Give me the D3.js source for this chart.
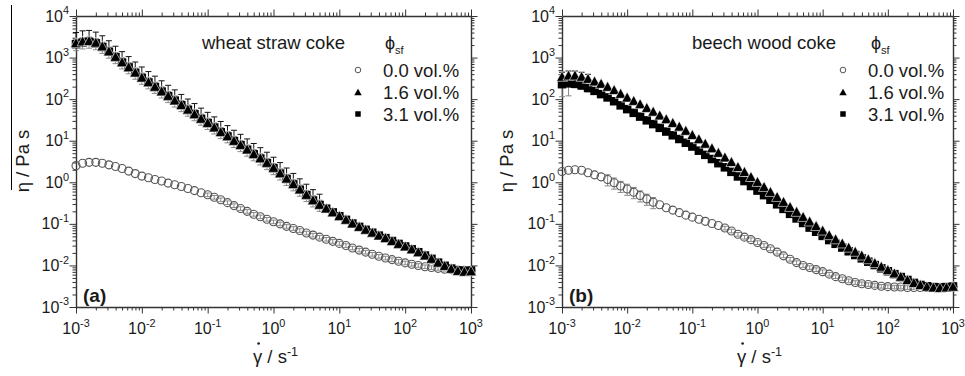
<!DOCTYPE html>
<html>
<head>
<meta charset="utf-8">
<script src="https://cdn.jsdelivr.net/npm/d3@7"></script>
<style>
  body { margin: 0; background: #fff; }
  svg text { font-family: "Liberation Sans", Arial, sans-serif; fill: #1a1a1a; }
</style>
</head>
<body>
<svg id="chart" width="965" height="376"></svg>
<script>
// shear rate (1/s), shared by all series
const shearRate = [
  1.00e-3, 1.26e-3, 1.58e-3, 2.00e-3, 2.51e-3, 3.16e-3, 3.98e-3, 5.01e-3, 6.31e-3, 7.94e-3,
  1.00e-2, 1.26e-2, 1.58e-2, 2.00e-2, 2.51e-2, 3.16e-2, 3.98e-2, 5.01e-2, 6.31e-2, 7.94e-2,
  0.100, 0.126, 0.158, 0.200, 0.251, 0.316, 0.398, 0.501, 0.631, 0.794,
  1.00, 1.26, 1.58, 2.00, 2.51, 3.16, 3.98, 5.01, 6.31, 7.94,
  10.0, 12.6, 15.8, 20.0, 25.1, 31.6, 39.8, 50.1, 63.1, 79.4,
  100, 126, 158, 200, 251, 316, 398, 501, 631, 794,
  1000
];

// (a) wheat straw coke, viscosity in Pa s
const wheat00 = [
  2.51, 2.88, 3.02, 3.02, 2.88, 2.63, 2.40, 2.14, 1.86, 1.62,
  1.41, 1.29, 1.17, 1.07, 0.955, 0.871, 0.794, 0.708, 0.631, 0.562,
  0.501, 0.437, 0.380, 0.324, 0.275, 0.234, 0.200, 0.170, 0.148, 0.129,
  0.112, 0.100, 0.0871, 0.0776, 0.0692, 0.0603, 0.0537, 0.0479, 0.0427, 0.0380,
  0.0339, 0.0302, 0.0263, 0.0234, 0.0209, 0.0186, 0.0166, 0.0151, 0.0138, 0.0126,
  0.0115, 0.0107, 0.0100, 0.00933, 0.00891, 0.00851, 0.00813, 0.00794, 0.00776, 0.00759,
  0.00759
];
const wheat16 = [
  2290, 2510, 2570, 2340, 1910, 1450, 1070, 794, 603, 447,
  339, 263, 204, 158, 123, 95.5, 74.1, 57.5, 44.7, 34.7,
  27.5, 21.4, 16.6, 13.2, 10.2, 8.13, 6.31, 4.90, 3.89, 3.02,
  2.29, 1.70, 1.26, 0.933, 0.692, 0.513, 0.380, 0.295, 0.240, 0.195,
  0.158, 0.129, 0.105, 0.0871, 0.0741, 0.0631, 0.0537, 0.0468, 0.0398, 0.0339,
  0.0295, 0.0251, 0.0214, 0.0178, 0.0148, 0.0120, 0.0100, 0.00851, 0.00759, 0.00724,
  0.00741
];
const wheat31 = [
  2100, 2300, 2400, 2200, 1800, 1380, 1020, 760, 580, 430,
  325, 252, 196, 152, 118, 92, 71.5, 55.5, 43.2, 33.6,
  26.6, 20.7, 16.0, 12.7, 9.8, 7.8, 6.05, 4.7, 3.72, 2.88,
  2.18, 1.62, 1.20, 0.89, 0.66, 0.49, 0.365, 0.285, 0.232, 0.189,
  0.153, 0.125, 0.102, 0.0845, 0.072, 0.0612, 0.0521, 0.0454, 0.0386, 0.0329,
  0.0286, 0.0244, 0.0208, 0.0173, 0.0144, 0.0117, 0.0098, 0.0084, 0.0076, 0.0073,
  0.0075
];

// (b) beech wood coke
const beech00 = [
  1.82, 1.95, 2.00, 1.95, 1.70, 1.51, 1.35, 1.17, 0.977, 0.813,
  0.692, 0.575, 0.479, 0.398, 0.331, 0.288, 0.245, 0.214, 0.186, 0.162,
  0.145, 0.129, 0.115, 0.102, 0.0912, 0.0794, 0.0676, 0.0562, 0.0479, 0.0417,
  0.0355, 0.0302, 0.0251, 0.0209, 0.0170, 0.0141, 0.0117, 0.0100, 0.00891, 0.00794,
  0.00708, 0.00617, 0.00537, 0.00479, 0.00427, 0.00389, 0.00363, 0.00347, 0.00331, 0.00316,
  0.00309, 0.00302, 0.00302, 0.00295, 0.00295, 0.00295, 0.00295, 0.00295, 0.00295, 0.00295,
  0.00302
];
const beech16 = [
  355, 380, 380, 355, 316, 275, 240, 204, 170, 138,
  112, 93.3, 77.6, 63.1, 51.3, 41.7, 33.9, 27.5, 22.4, 17.8,
  14.1, 11.2, 8.71, 6.76, 5.25, 4.07, 3.16, 2.40, 1.82, 1.38,
  1.05, 0.794, 0.603, 0.457, 0.347, 0.263, 0.200, 0.151, 0.117, 0.0912,
  0.0708, 0.0550, 0.0437, 0.0347, 0.0275, 0.0219, 0.0178, 0.0145, 0.0117, 0.00955,
  0.00794, 0.00661, 0.00550, 0.00457, 0.00389, 0.00347, 0.00316, 0.00302, 0.00295, 0.00302,
  0.00316
];
const beech31 = [
  229, 240, 234, 214, 186, 158, 132, 110, 89.1, 70.8,
  57.5, 46.8, 38.0, 30.9, 25.1, 20.4, 16.6, 13.5, 11.0, 8.91,
  7.24, 5.75, 4.57, 3.63, 2.88, 2.29, 1.78, 1.38, 1.07, 0.813,
  0.631, 0.490, 0.380, 0.295, 0.229, 0.174, 0.135, 0.105, 0.0813, 0.0646,
  0.0513, 0.0407, 0.0331, 0.0269, 0.0219, 0.0178, 0.0148, 0.0123, 0.0102, 0.00851,
  0.00724, 0.00617, 0.00525, 0.00447, 0.00380, 0.00339, 0.00316, 0.00302, 0.00295, 0.00302,
  0.00309
];

// relative error bars: [from shear rate, to shear rate, relative error]
const wheatErr00 = [[0.08, 1000, 0.1]];
const wheatErr16 = [[0.001, 6, 0.75]];
const wheatErr31 = [[0.001, 6, 0.3]];
const beechErr00 = [[0.004, 0.03, 0.3], [0.3, 1000, 0.1]];
const beechErr16 = [[0.001, 0.003, 0.25]];
const beechErr31 = [[0.001, 0.0013, 0.5], [0.0013, 0.003, 0.2]];

const seriesLabels = ['0.0 vol.%', '1.6 vol.%', '3.1 vol.%'];
const xTickExps = [-3, -2, -1, 0, 1, 2, 3];
const yTickExps = [-3, -2, -1, 0, 1, 2, 3, 4];

const svg = d3.select('#chart');

const panels = [
  { x0: 76, x1: 471, y0: 16, y1: 307, title: 'wheat straw coke', tag: '(a)',
    data: [wheat00, wheat16, wheat31], err: [wheatErr00, wheatErr16, wheatErr31],
    titleX: 202, phiX: 385, legMarkX: 358, legTextX: 383, yTitleX: 23 },
  { x0: 562, x1: 953, y0: 16, y1: 307, title: 'beech wood coke', tag: '(b)',
    data: [beech00, beech16, beech31], err: [beechErr00, beechErr16, beechErr31],
    titleX: 692, phiX: 871, legMarkX: 843, legTextX: 868, yTitleX: 507 }
];

// minor tick positions for a log axis
function minors(lo, hi) {
  const out = [];
  for (let e = lo; e < hi; e++) {
    for (let m = 2; m <= 9; m++) out.push(m * Math.pow(10, e));
  }
  return out;
}

function supText(sel, base, exp, size) {
  sel.append('tspan').text(base);
  sel.append('tspan').attr('dy', -size * 0.45).attr('font-size', size * 0.68).text(exp);
}

// triangle centred on its bounding box, like the plotting program does
function triPath(w, h) {
  return `M0,${-h / 2}L${w / 2},${h / 2}L${-w / 2},${h / 2}Z`;
}
function sqPath(s) {
  return `M${-s / 2},${-s / 2}h${s}v${s}h${-s}Z`;
}

panels.forEach(p => {
  const x = d3.scaleLog().domain([1e-3, 1e3]).range([p.x0, p.x1]);
  const y = d3.scaleLog().domain([1e-3, 1e4]).range([p.y1, p.y0]);
  const g = svg.append('g');

  const xMaj = xTickExps.map(e => Math.pow(10, e));
  const yMaj = yTickExps.map(e => Math.pow(10, e));
  const xMin = minors(-3, 3), yMin = minors(-3, 4);

  // bottom/left ticks point out, top/right ticks point in
  const axes = [
    [d3.axisBottom, x, xMaj, xMin, `translate(0,${p.y1})`, 1],
    [d3.axisBottom, x, xMaj, xMin, `translate(0,${p.y0})`, -1],
    [d3.axisLeft, y, yMaj, yMin, `translate(${p.x0},0)`, 1],
    [d3.axisLeft, y, yMaj, yMin, `translate(${p.x1},0)`, -1]
  ];
  axes.forEach(([ax, sc, maj, mn, tr, k]) => {
    g.append('g').attr('transform', tr)
      .call(ax(sc).tickValues(mn).tickSize(3.5 * k).tickSizeOuter(0).tickFormat(''))
      .call(a => a.select('.domain').remove());
    g.append('g').attr('transform', tr)
      .call(ax(sc).tickValues(maj).tickSize(6.5 * k).tickSizeOuter(0).tickFormat(''));
  });
  g.selectAll('.tick line').attr('stroke', '#333').attr('stroke-width', 1);
  g.selectAll('.domain').attr('stroke', '#333').attr('stroke-width', 1.4);

  // tick labels
  xTickExps.forEach(e => {
    const t = g.append('text').attr('x', x(Math.pow(10, e))).attr('y', 334)
      .attr('text-anchor', 'middle').attr('font-size', 16);
    supText(t, '10', String(e), 16);
  });
  yTickExps.forEach(e => {
    const t = g.append('text').attr('x', p.x0 - 7).attr('y', y(Math.pow(10, e)) + 5.5)
      .attr('text-anchor', 'end').attr('font-size', 16);
    supText(t, '10', String(e), 16);
  });

  // x axis title; the dot over the gamma is drawn as a tiny circle
  const xt = g.append('text').attr('y', 363).attr('font-size', 18.5);
  xt.append('tspan').text('\u03B3 / s');
  xt.append('tspan').attr('dy', -7).attr('font-size', 12.5).text('-1');
  const n = xt.node();
  const len = n.getComputedTextLength();
  const startX = (p.x0 + p.x1) / 2 + 2 - len / 2;
  xt.attr('x', startX);
  const gw = n.getSubStringLength(0, 1);
  g.append('circle').attr('cx', startX + gw / 2 + 1).attr('cy', 343.5).attr('r', 1.3)
    .attr('fill', '#1a1a1a');

  g.append('text').attr('transform', `translate(${p.yTitleX},161) rotate(-90)`)
    .attr('text-anchor', 'middle').attr('dy', '0.35em').attr('font-size', 18.5)
    .text('\u03B7 / Pa s');

  const pts = p.data.map(vals => shearRate.map((r, i) => ({ r, v: vals[i] })));

  // error bars first, markers on top
  [0, 2, 1].forEach(si => {
    const ebars = [];
    pts[si].forEach(d => {
      p.err[si].forEach(([a, b, rel]) => {
        if (d.r >= a && d.r <= b) {
          ebars.push({ r: d.r, lo: si === 1 ? d.v : d.v * (1 - rel), hi: d.v * (1 + rel), lowCap: si !== 1 });
        }
      });
    });
    const eg = g.append('g').attr('stroke', si === 1 ? '#111' : '#8a8a8a').attr('stroke-width', 1);
    eg.selectAll('line.v').data(ebars).join('line').attr('class', 'v')
      .attr('x1', d => x(d.r)).attr('x2', d => x(d.r))
      .attr('y1', d => y(d.lo)).attr('y2', d => y(d.hi));
    eg.selectAll('line.t').data(ebars).join('line').attr('class', 't')
      .attr('x1', d => x(d.r) - 3).attr('x2', d => x(d.r) + 3)
      .attr('y1', d => y(d.hi)).attr('y2', d => y(d.hi));
    eg.selectAll('line.b').data(ebars.filter(d => d.lowCap)).join('line').attr('class', 'b')
      .attr('x1', d => x(d.r) - 3).attr('x2', d => x(d.r) + 3)
      .attr('y1', d => y(d.lo)).attr('y2', d => y(d.lo));
  });

  g.append('g').selectAll('circle').data(pts[0]).join('circle')
    .attr('cx', d => x(d.r)).attr('cy', d => y(d.v)).attr('r', 4)
    .attr('fill', 'none').attr('stroke', '#555').attr('stroke-width', 1.1);
  g.append('g').selectAll('path').data(pts[2]).join('path')
    .attr('transform', d => `translate(${x(d.r)},${y(d.v)})`)
    .attr('d', sqPath(8.5)).attr('fill', '#000');
  g.append('g').selectAll('path').data(pts[1]).join('path')
    .attr('transform', d => `translate(${x(d.r)},${y(d.v)})`)
    .attr('d', triPath(11, 10)).attr('fill', '#000')
    .attr('stroke', '#fff').attr('stroke-width', 0.6);

  // legend
  g.append('text').attr('x', p.titleX).attr('y', 49).attr('font-size', 18.5).text(p.title);
  const phi = g.append('text').attr('x', p.phiX).attr('y', 49).attr('font-size', 18);
  phi.append('tspan').text('\u03D5');
  phi.append('tspan').attr('dy', 5).attr('font-size', 11).text('sf');

  const rowsY = [70, 92, 114];
  seriesLabels.forEach((lab, i) => {
    const cy = rowsY[i];
    if (i === 0) {
      g.append('circle').attr('cx', p.legMarkX).attr('cy', cy).attr('r', 2.8)
        .attr('fill', 'none').attr('stroke', '#555').attr('stroke-width', 1);
    } else {
      g.append('path').attr('transform', `translate(${p.legMarkX},${cy})`)
        .attr('d', i === 1 ? triPath(7.5, 6.5) : sqPath(5.5)).attr('fill', '#000');
    }
    g.append('text').attr('x', p.legTextX).attr('y', cy + 6.5).attr('font-size', 18.5).text(lab);
  });

  g.append('text').attr('x', p.x0 + 7).attr('y', 302).attr('font-size', 19)
    .attr('font-weight', 'bold').text(p.tag);
});

// stray overline beside the left axis title
svg.append('line').attr('x1', 11.5).attr('x2', 11.5).attr('y1', 5).attr('y2', 190)
  .attr('stroke', '#000').attr('stroke-width', 1);
</script>
</body>
</html>
